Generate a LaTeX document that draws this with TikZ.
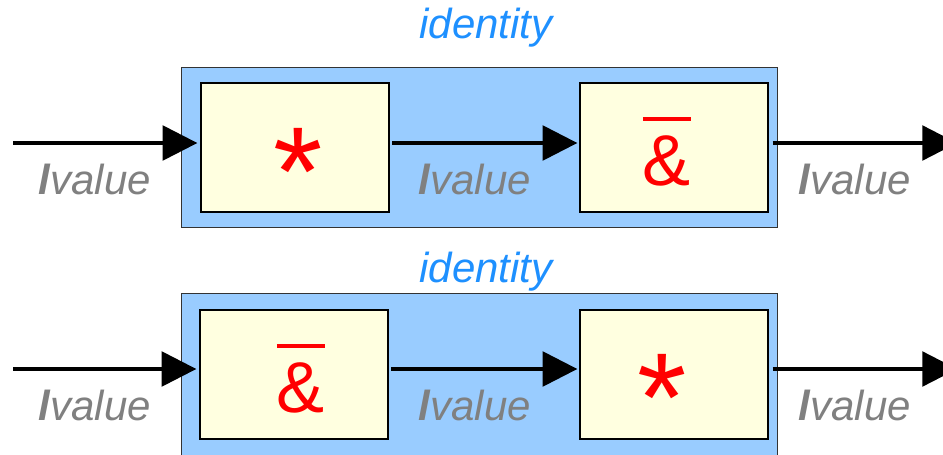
\documentclass[tikz,border=0pt]{standalone}
\usepackage{fontspec}
\setmainfont{Liberation Sans}
\usetikzlibrary{arrows.meta}
\definecolor{boxblue}{HTML}{99CCFF}
\definecolor{opyellow}{HTML}{FFFFE0}
\definecolor{idblue}{HTML}{1E90FF}
\definecolor{lvgray}{HTML}{808080}
\newcommand{\ampbar}{\vbox{\hrule height 3pt\kern 11pt\hbox{\&}}}
\begin{document}
\begin{tikzpicture} %Identitaet
      [
      x=0.75pt, y=-0.75pt,
      outerbox/.style={draw=black!80, line width=0.75pt, fill=boxblue, minimum width=447pt, minimum height=120pt, inner sep=0pt},
      opbox/.style={draw=black, line width=1pt, fill=opyellow, minimum width=141pt, minimum height=96.75pt, inner sep=0pt},
      flow/.style={line width=2.5pt, -{Triangle[length=26pt, width=26pt]}},
      lval/.style={text=lvgray, font=\fontsize{31.5}{36}\selectfont\itshape, anchor=base, inner sep=0pt},
      idlabel/.style={text=idblue, font=\fontsize{31.5}{36}\selectfont\itshape, anchor=base, inner sep=0pt},
      opsym/.style={text=red, anchor=base, inner sep=0pt}
      ]
      \useasboundingbox (0,0) rectangle (943,454);
      % erste Zeile
      \node[outerbox] (id1) at (479,147) {};
      \node[opbox] (mul1) at (295,147.5) {};
      \node[opbox] (amp1) at (674,147.5) {};
      \node[idlabel] (idtxt1) at (486,38) {identity};
      \node[opsym, font=\fontsize{95}{100}\selectfont] (star1) at (298,215) {*};
      \node[opsym, font=\fontsize{54}{60}\selectfont] (bar1) at (667,185) {\ampbar};
      \coordinate (in1) at (13,143);
      \coordinate (out1) at (957,143);
      \draw[flow, shorten >=2.25pt] (in1) -- (mul1.west |- in1);
      \draw[flow, shorten <=2pt, shorten >=1.5pt] (mul1.east |- in1) -- (amp1.west |- in1);
      \draw[flow, shorten <=3pt] (amp1.east |- in1) -- (out1);
      \node[lval] (lva1) at (95,194) {\textbf{l}value};
      \node[lval] (lvb1) at (475,194) {\textbf{l}value};
      \node[lval] (lvc1) at (855,194) {\textbf{l}value};
      % zweite Zeile
      \node[outerbox, minimum height=125.25pt] (id2) at (479,376.5) {};
      \node[opbox] (amp2) at (294,374.5) {};
      \node[opbox] (mul2) at (674,374.5) {};
      \node[idlabel] (idtxt2) at (486,282) {identity};
      \node[opsym, font=\fontsize{54}{60}\selectfont] (bar2) at (301,412) {\ampbar};
      \node[opsym, font=\fontsize{95}{100}\selectfont] (star2) at (662,441) {*};
      \coordinate (in2) at (13,369);
      \coordinate (out2) at (957,369);
      \draw[flow, shorten >=2.25pt] (in2) -- (amp2.west |- in2);
      \draw[flow, shorten <=2pt, shorten >=1.5pt] (amp2.east |- in2) -- (mul2.west |- in2);
      \draw[flow, shorten <=3pt] (mul2.east |- in2) -- (out2);
      \node[lval] (lva2) at (95,420) {\textbf{l}value};
      \node[lval] (lvb2) at (475,420) {\textbf{l}value};
      \node[lval] (lvc2) at (855,420) {\textbf{l}value};
\end{tikzpicture}
\end{document}
